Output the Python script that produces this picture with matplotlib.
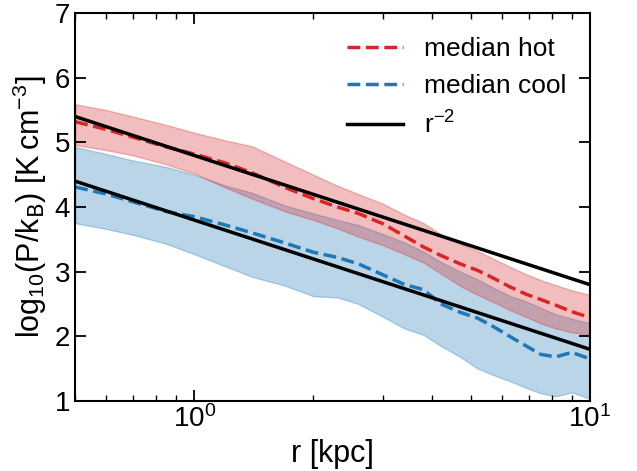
import numpy as np
import matplotlib
matplotlib.use("Agg")
import matplotlib.pyplot as plt

plt.rcParams['font.family'] = ['Liberation Sans', 'DejaVu Sans']
plt.rcParams['mathtext.default'] = 'regular'

# radii [kpc]
r = [0.5, 0.6, 0.7, 0.85, 1.0, 1.2, 1.4, 1.7, 2.0, 2.3, 2.6, 3.0,
     3.4, 3.8, 4.2, 4.7, 5.2, 5.7, 6.3, 6.9, 7.5, 8.2, 9.0, 10.0]

# hot gas: median and band
hot_med = [5.32, 5.20, 5.08, 4.93, 4.82, 4.68, 4.53, 4.30, 4.13, 4.00, 3.90, 3.74,
           3.55, 3.38, 3.25, 3.12, 3.02, 2.90, 2.76, 2.65, 2.57, 2.48, 2.38, 2.29]
hot_hi = [5.59, 5.50, 5.40, 5.27, 5.15, 5.03, 4.94, 4.70, 4.50, 4.33, 4.20, 4.05,
          3.88, 3.75, 3.58, 3.43, 3.32, 3.20, 3.07, 2.96, 2.87, 2.79, 2.71, 2.64]
hot_lo = [4.96, 4.88, 4.80, 4.66, 4.52, 4.30, 4.13, 3.93, 3.80, 3.67, 3.54, 3.41,
          3.27, 3.14, 2.97, 2.78, 2.64, 2.53, 2.40, 2.30, 2.20, 2.12, 2.06, 2.02]

# cool gas: median and band
cool_med = [4.31, 4.20, 4.08, 3.93, 3.85, 3.72, 3.60, 3.44, 3.30, 3.22, 3.12, 2.95,
            2.80, 2.72, 2.50, 2.37, 2.28, 2.15, 1.99, 1.85, 1.72, 1.68, 1.75, 1.65]
cool_hi = [4.93, 4.82, 4.72, 4.62, 4.50, 4.33, 4.22, 4.02, 3.90, 3.80, 3.72, 3.58,
           3.45, 3.31, 3.15, 3.00, 2.88, 2.75, 2.62, 2.54, 2.44, 2.34, 2.27, 2.20]
cool_lo = [3.75, 3.66, 3.57, 3.43, 3.27, 3.08, 2.92, 2.78, 2.62, 2.60, 2.50, 2.30,
           2.12, 2.02, 1.85, 1.68, 1.50, 1.40, 1.30, 1.20, 1.12, 1.07, 1.13, 1.03]

# r^-2 reference lines, normalised at r = 0.5 kpc
r_ref = np.array([0.5, 10.0])
ref_norm = [5.4, 4.4]

fig = plt.figure(figsize=(6.37, 4.71), dpi=100)
ax = fig.add_axes([0.118, 0.149, 0.808, 0.823])

ax.fill_between(r, cool_lo, cool_hi, color='tab:blue', alpha=0.3)
ax.fill_between(r, hot_lo, hot_hi, color='tab:red', alpha=0.3)
ax.plot(r, hot_med, '--', color='tab:red', lw=2.5, label='median hot')
ax.plot(r, cool_med, '--', color='tab:blue', lw=2.5, label='median cool')
for i, n in enumerate(ref_norm):
    ax.plot(r_ref, n - 2 * np.log10(r_ref / 0.5), color='black', lw=2.5,
            label='r$^{-2}$' if i == 0 else None)

ax.set_xscale('log')
ax.set_xlim(0.5, 10)
ax.set_ylim(1, 7)
ax.set_xlabel('r [kpc]', fontsize=22)
ax.set_ylabel(r'log$_{10}$(P/k$_{\rm B}$) [K$\,$cm$^{-3}$]', fontsize=22)

ax.tick_params(which='both', direction='in', top=True, right=True, labelsize=20)
ax.tick_params(which='major', length=8, width=1.3)
ax.tick_params(which='minor', length=4, width=1.0)
for s in ax.spines.values():
    s.set_linewidth(1.5)

ax.legend(frameon=False, fontsize=19, loc='upper right', handlelength=2.1)

fig.savefig('out.png', dpi=100)
